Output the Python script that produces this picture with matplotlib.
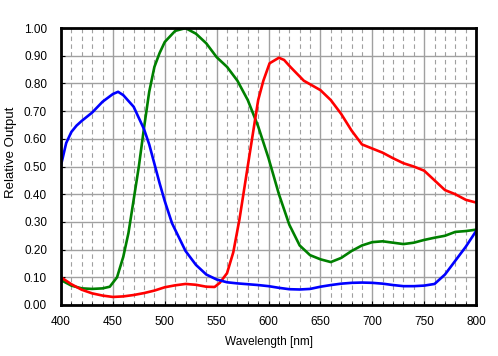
import numpy as np
import matplotlib
matplotlib.use('Agg')
import matplotlib.pyplot as plt
from matplotlib.ticker import MultipleLocator

# spectral response
blue_wl = [400, 405, 410, 415, 420, 430, 440, 450, 455, 460, 470, 480, 485, 490, 495, 500, 507,
           520, 530, 540, 550, 560, 570, 580, 590, 600, 610, 620, 630, 640, 650, 660,
           670, 680, 690, 700, 710, 720, 730, 740, 750, 760, 770, 780, 790, 800]
blue = [0.505, 0.585, 0.625, 0.648, 0.665, 0.695, 0.734, 0.762, 0.77, 0.758, 0.716, 0.635, 0.58,
        0.51, 0.44, 0.375, 0.295, 0.195, 0.145, 0.11, 0.092, 0.082, 0.078, 0.075, 0.072, 0.068,
        0.062, 0.057, 0.056, 0.058, 0.066, 0.072, 0.077, 0.08, 0.081, 0.08, 0.077, 0.072, 0.068,
        0.068, 0.07, 0.076, 0.11, 0.16, 0.21, 0.267]

green_wl = [400, 410, 420, 430, 440, 447, 454, 460, 465, 470, 475, 480, 485, 490, 495, 500,
            510, 520, 530, 540, 550, 560, 570, 580, 590, 600, 610, 620, 630, 640, 650, 660,
            670, 680, 690, 700, 710, 720, 730, 740, 750, 760, 770, 780, 790, 800]
green = [0.09, 0.07, 0.06, 0.058, 0.06, 0.066, 0.10, 0.174, 0.26, 0.38, 0.50, 0.64, 0.77, 0.86,
         0.91, 0.95, 0.99, 1.0, 0.98, 0.945, 0.895, 0.86, 0.81, 0.74, 0.645, 0.53, 0.40, 0.29,
         0.215, 0.18, 0.165, 0.155, 0.17, 0.195, 0.215, 0.227, 0.23, 0.225, 0.22, 0.225, 0.235,
         0.243, 0.25, 0.264, 0.267, 0.272]

red_wl = [400, 410, 420, 430, 440, 450, 460, 470, 480, 490, 500, 510, 520, 530, 540, 548, 553,
          560, 566, 572, 577, 582, 586, 590, 595, 601, 610, 615, 621, 634, 650, 660, 670, 680,
          690, 700, 710, 720, 730, 740, 750, 760, 770, 780, 790, 800]
red = [0.10, 0.075, 0.055, 0.042, 0.034, 0.029, 0.031, 0.036, 0.043, 0.052, 0.064, 0.071, 0.076,
       0.073, 0.066, 0.065, 0.08, 0.115, 0.19, 0.31, 0.43, 0.55, 0.645, 0.74, 0.81, 0.873, 0.893,
       0.885, 0.86, 0.81, 0.776, 0.74, 0.69, 0.63, 0.58, 0.565, 0.55, 0.53, 0.512, 0.50, 0.485,
       0.45, 0.415, 0.40, 0.38, 0.37]

plt.rcParams['font.family'] = ['Liberation Sans', 'DejaVu Sans']

fig = plt.figure(figsize=(4.98, 3.56), dpi=100)
ax = fig.add_axes([0.1225, 0.1433, 0.8335, 0.7777])

ax.set_xlim(400, 800)
ax.set_ylim(0, 1.0)
ax.xaxis.set_major_locator(MultipleLocator(50))
ax.xaxis.set_minor_locator(MultipleLocator(10))
ax.yaxis.set_major_locator(MultipleLocator(0.1))

ax.grid(which='major', color='#a0a0a0', lw=1.0, ls='-')
ax.grid(which='minor', axis='x', color='#a0a0a0', lw=0.8, ls=(0, (4, 3)))
ax.set_axisbelow(True)

ax.plot(green_wl, green, color='#008000', lw=1.9, solid_joinstyle='round')
ax.plot(red_wl, red, color='#ff0000', lw=1.9, solid_joinstyle='round')
ax.plot(blue_wl, blue, color='#0000ff', lw=1.9, solid_joinstyle='round')

ax.set_yticks(np.arange(0, 1.01, 0.1))
ax.set_yticklabels([f'{v:.2f}' for v in np.arange(0, 1.01, 0.1)])
ax.tick_params(which='both', direction='in', labelsize=8.5, color='black')
ax.tick_params(which='major', length=3)
ax.tick_params(which='minor', length=2)
ax.tick_params(axis='x', pad=8)
ax.tick_params(axis='y', pad=10)

for s in ax.spines.values():
    s.set_linewidth(2.0)
    s.set_color('black')

ax.set_xlabel('Wavelength [nm]', fontsize=8.5, labelpad=6)
ax.set_ylabel('Relative Output', fontsize=9.5)
ax.yaxis.set_label_coords(-0.106, 0.55)

fig.savefig('out.png', dpi=100)
